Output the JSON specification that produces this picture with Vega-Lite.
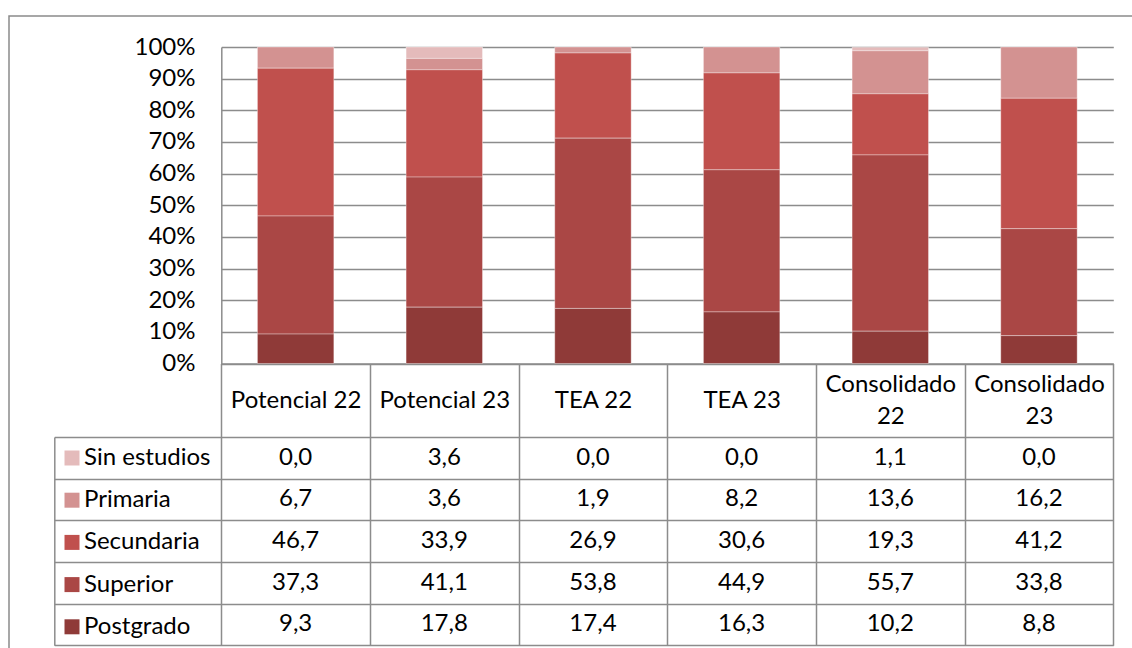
{
  "$schema": "https://vega.github.io/schema/vega-lite/v6.json",
  "width": 1125,
  "height": 634,
  "autosize": {"type": "none"},
  "padding": {"left": 9, "top": 16, "right": -2, "bottom": -2},
  "background": "white",
  "config": {
    "view": {"stroke": "#8a8a8a", "strokeWidth": 1.5},
    "locale": {"number": {"decimal": ",", "thousands": ".", "grouping": [3], "currency": ["", " €"]}},
    "font": "Lato"
  },
  "data": {
    "values": [
      {"cat": "Potencial 22", "level": "Sin estudios", "orden": 5, "value": 0.0},
      {"cat": "Potencial 23", "level": "Sin estudios", "orden": 5, "value": 3.6},
      {"cat": "TEA 22", "level": "Sin estudios", "orden": 5, "value": 0.0},
      {"cat": "TEA 23", "level": "Sin estudios", "orden": 5, "value": 0.0},
      {"cat": "Consolidado 22", "level": "Sin estudios", "orden": 5, "value": 1.1},
      {"cat": "Consolidado 23", "level": "Sin estudios", "orden": 5, "value": 0.0},
      {"cat": "Potencial 22", "level": "Primaria", "orden": 4, "value": 6.7},
      {"cat": "Potencial 23", "level": "Primaria", "orden": 4, "value": 3.6},
      {"cat": "TEA 22", "level": "Primaria", "orden": 4, "value": 1.9},
      {"cat": "TEA 23", "level": "Primaria", "orden": 4, "value": 8.2},
      {"cat": "Consolidado 22", "level": "Primaria", "orden": 4, "value": 13.6},
      {"cat": "Consolidado 23", "level": "Primaria", "orden": 4, "value": 16.2},
      {"cat": "Potencial 22", "level": "Secundaria", "orden": 3, "value": 46.7},
      {"cat": "Potencial 23", "level": "Secundaria", "orden": 3, "value": 33.9},
      {"cat": "TEA 22", "level": "Secundaria", "orden": 3, "value": 26.9},
      {"cat": "TEA 23", "level": "Secundaria", "orden": 3, "value": 30.6},
      {"cat": "Consolidado 22", "level": "Secundaria", "orden": 3, "value": 19.3},
      {"cat": "Consolidado 23", "level": "Secundaria", "orden": 3, "value": 41.2},
      {"cat": "Potencial 22", "level": "Superior", "orden": 2, "value": 37.3},
      {"cat": "Potencial 23", "level": "Superior", "orden": 2, "value": 41.1},
      {"cat": "TEA 22", "level": "Superior", "orden": 2, "value": 53.8},
      {"cat": "TEA 23", "level": "Superior", "orden": 2, "value": 44.9},
      {"cat": "Consolidado 22", "level": "Superior", "orden": 2, "value": 55.7},
      {"cat": "Consolidado 23", "level": "Superior", "orden": 2, "value": 33.8},
      {"cat": "Potencial 22", "level": "Postgrado", "orden": 1, "value": 9.3},
      {"cat": "Potencial 23", "level": "Postgrado", "orden": 1, "value": 17.8},
      {"cat": "TEA 22", "level": "Postgrado", "orden": 1, "value": 17.4},
      {"cat": "TEA 23", "level": "Postgrado", "orden": 1, "value": 16.3},
      {"cat": "Consolidado 22", "level": "Postgrado", "orden": 1, "value": 10.2},
      {"cat": "Consolidado 23", "level": "Postgrado", "orden": 1, "value": 8.8}
    ]
  },
  "layer": [
    {
      "transform": [{"filter": "datum.value > 0"}],
      "mark": {"type": "bar", "width": {"band": 0.514}, "stroke": "#ffffff", "strokeOpacity": 0.35, "strokeWidth": 1},
      "encoding": {
        "x": {
          "field": "cat", "type": "nominal",
          "sort": ["Potencial 22", "Potencial 23", "TEA 22", "TEA 23", "Consolidado 22", "Consolidado 23"],
          "scale": {"range": [212.3, 1104.3], "paddingInner": 0, "paddingOuter": 0},
          "axis": {
            "title": null, "orient": "bottom", "offset": -286.5,
            "domainColor": "#8c8c8c", "domainWidth": 1.5,
            "tickBand": "extent", "tickSize": 281.8, "tickColor": "#8c8c8c", "tickWidth": 1.5,
            "labelPadding": -261.3, "labelBaseline": "middle", "labelAngle": 0,
            "labelFont": "Lato", "labelFontSize": 24, "labelColor": "#000000", "labelLineHeight": 16,
            "labelExpr": "length(datum.label) > 12 ? [split(datum.label, ' ')[0], '\u200b', split(datum.label, ' ')[1]] : ['\u200b', datum.label]",
            "labelLimit": 400, "grid": false
          }
        },
        "y": {
          "field": "value", "type": "quantitative", "stack": "zero",
          "scale": {"domain": [0, 100], "range": [347.5, 31], "nice": false},
          "axis": {
            "title": null, "orient": "left", "offset": -212.3,
            "values": [0, 10, 20, 30, 40, 50, 60, 70, 80, 90, 100],
            "tickSize": -892, "tickColor": "#8c8c8c", "tickWidth": 1.5,
            "domainColor": "#8c8c8c", "domainWidth": 1.5,
            "labelPadding": 918.3, "labelExpr": "datum.value + '%'",
            "labelFont": "Lato", "labelFontSize": 24, "labelColor": "#000000", "labelBaseline": "middle",
            "grid": false
          }
        },
        "color": {
          "field": "level", "type": "nominal",
          "scale": {
            "domain": ["Sin estudios", "Primaria", "Secundaria", "Superior", "Postgrado"],
            "range": ["#e4bbbb", "#d39291", "#c0504d", "#aa4745", "#8f3a38"]
          },
          "legend": {
            "title": null, "orient": "none", "legendX": 51, "legendY": 430,
            "direction": "vertical", "symbolType": "square", "symbolSize": 225,
            "symbolStrokeWidth": 0, "symbolOpacity": 1,
            "labelFont": "Lato", "labelFontSize": 24, "labelColor": "#000000", "labelOffset": 0,
            "rowPadding": 18.2, "padding": 0, "labelLimit": 300
          }
        },
        "order": {"field": "orden", "type": "quantitative"}
      }
    },
    {
      "mark": {"type": "text", "fontSize": 24, "font": "Lato", "color": "#000000"},
      "encoding": {
        "x": {
          "field": "cat", "type": "nominal",
          "sort": ["Potencial 22", "Potencial 23", "TEA 22", "TEA 23", "Consolidado 22", "Consolidado 23"]
        },
        "y": {
          "field": "level", "type": "nominal",
          "sort": ["Sin estudios", "Primaria", "Secundaria", "Superior", "Postgrado"],
          "scale": {"type": "band", "range": [421, 629.3], "paddingInner": 0, "paddingOuter": 0},
          "axis": {
            "title": null, "orient": "left", "offset": -45.3, "labels": false,
            "tickBand": "extent", "tickSize": -1059, "tickColor": "#8c8c8c", "tickWidth": 1.5,
            "domainColor": "#8c8c8c", "domainWidth": 1.5, "grid": false
          }
        },
        "text": {"field": "value", "type": "quantitative", "format": ".1f"}
      }
    }
  ],
  "resolve": {"scale": {"y": "independent"}}
}
